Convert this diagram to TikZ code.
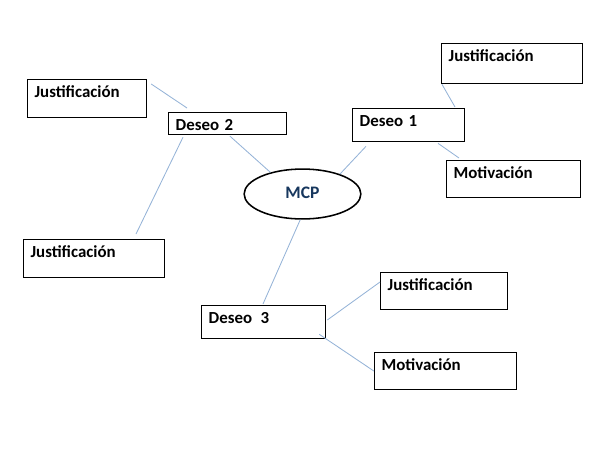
\documentclass[tikz,border=0pt]{standalone}
\usepackage{fontspec}
\setmainfont{Carlito}
\usetikzlibrary{calc,shapes.geometric}
\definecolor{linkblue}{RGB}{149,179,215}
\definecolor{mcpblue}{RGB}{23,55,94}

\tikzset{%
  % Specifications for style of nodes:
         box/.style = {rectangle, draw = black, line width=0.9pt, anchor=north west, inner xsep=5pt, inner ysep=0pt, text height=13pt, align=left, font=\fontsize{12}{14}\selectfont\bfseries},
         hub/.style = {ellipse, draw = black, line width=1.1pt, minimum width=83pt, minimum height=35.5pt, inner sep=0pt, text=mcpblue, font=\fontsize{12.5}{14}\selectfont\bfseries},
        link/.style = {draw = linkblue, line width=0.6pt},
}

\begin{document}
\begin{tikzpicture}[x=0.025cm, y=-0.025cm]
    \useasboundingbox (0,0) rectangle (600,450);

    % Draw nodes
    \node (mcp)  [hub]                                       at (302.5,194) {\raisebox{2pt}{MCP}};
    \node (d1)   [box, text width=69.7pt, text depth=10.5pt] at (352,108)   {Deseo 1};
    \node (d2)   [box, text width=73.9pt, text depth=2.6pt]  at (168,112)   {Deseo 2};
    \node (d3)   [box, text width=78.2pt, text depth=10.5pt] at (201,305)   {Deseo\hspace{0.5em}3};

    \node (j1)   [box, text width=90.3pt, text depth=15.5pt] at (441,43)    {Justificación};
    \node (m1)   [box, text width=85.3pt, text depth=13.3pt] at (446,160)   {Motivación};
    \node (j2a)  [box, text width=74.6pt, text depth=14.0pt] at (27,79)     {Justificación};
    \node (j2b)  [box, text width=90.3pt, text depth=14.0pt] at (23,239)    {Justificación};
    \node (j3)   [box, text width=80.3pt, text depth=13.3pt] at (380,272)   {Justificación};
    \node (m3)   [box, text width=91.0pt, text depth=13.3pt] at (374,352)   {Motivación};

    % Draw lines
    \draw[link]  ($(d1.south west)+(14,4)$)   -- (mcp.28);
    \draw[link]  ($(d1.north west)+(103,-1)$) -- ($(j1.south west)+(1,0)$);
    \draw[link]  ($(d1.south west)+(86,1)$)   -- ($(m1.north west)+(13,-2)$);

    \draw[link]  ($(d2.south west)+(62,1)$)   -- (mcp.146);
    \draw[link]  ($(d2.north west)+(19,-4)$)  -- ($(j2a.north east)+(4,5)$);
    \draw[link]  ($(d2.south west)+(15,2)$)   -- ($(j2b.north west)+(113,-5)$);

    \draw[link]  (mcp.265)                    -- ($(d3.north west)+(62,-1)$);
    \draw[link]  ($(d3.north east)+(1,15)$)   -- ($(j3.north west)+(0,10)$);
    \draw[link]  ($(d3.south east)+(-7,-5)$)  -- (m3.west);

\end{tikzpicture}
\end{document}
